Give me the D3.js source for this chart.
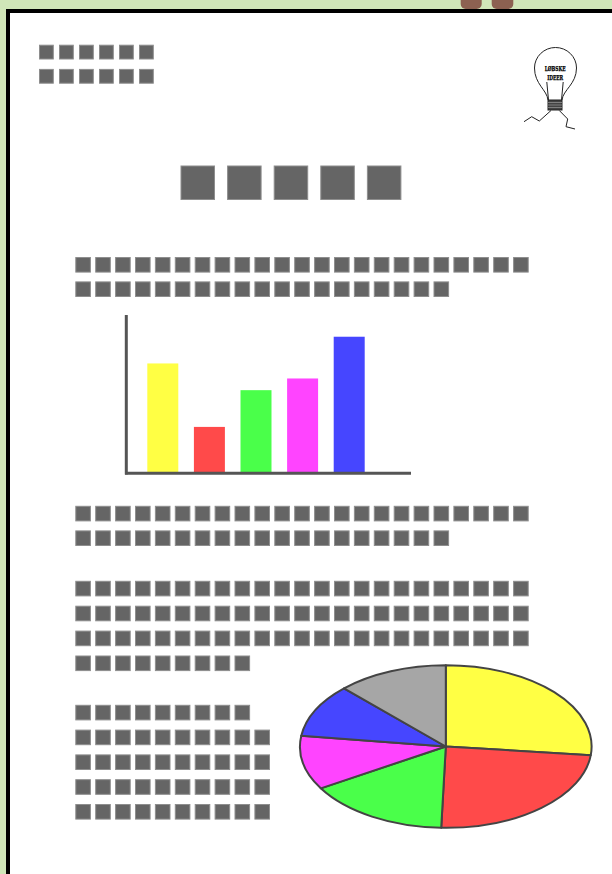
<!DOCTYPE html>
<html>
<head>
<meta charset="utf-8">
<script src="https://cdn.jsdelivr.net/npm/d3@7"></script>
<style>
html,body{margin:0;padding:0;background:#d0e6b8;}
svg{display:block;}
</style>
</head>
<body>
<svg id="chart" width="612" height="874"></svg>
<script>
// ---- data ----
const barCategories = ["A", "B", "C", "D", "E"];
const barValues = [65, 27, 49, 56, 81];
const barColors = ["#ffff44", "#ff4a4a", "#4aff4a", "#ff44ff", "#4646ff"];

const pieCategories = ["A", "B", "C", "D", "E", "F"];
const pieValues = [26.7, 23.8, 15.9, 10.7, 10.6, 12.3];
const pieColors = ["#ffff44", "#ff4a4a", "#4aff4a", "#ff44ff", "#4646ff", "#a6a6a6"];

// placeholder "text" rows: number of blocks per row
const headerRows = [6, 6];
const titleRow = [5];
const para1Rows = [23, 19];
const para2Rows = [23, 19];
const para3Rows = [23, 23, 23, 9];
const para4Rows = [9, 10, 10, 10, 10];

const logoLines = ["LØBSKE", "IDEER"];

// ---- drawing ----
const svg = d3.select("#chart");

// background
svg.append("rect").attr("width", 612).attr("height", 874).attr("fill", "#d0e6b8");

// feet at top
svg.append("rect").attr("x", 460.7).attr("y", -6).attr("width", 21).attr("height", 15)
  .attr("rx", 5).attr("fill", "#8c6151");
svg.append("rect").attr("x", 491.7).attr("y", -6).attr("width", 21.6).attr("height", 15)
  .attr("rx", 5).attr("fill", "#8c6151");

// page
svg.append("rect").attr("x", 8).attr("y", 11).attr("width", 640).attr("height", 900)
  .attr("fill", "#ffffff").attr("stroke", "#000").attr("stroke-width", 4);

// block rows helper
function blockRows(rows, x0, yTop, size, pitchX, pitchY) {
  const g = svg.append("g");
  rows.forEach((count, ri) => {
    const idx = d3.range(count);
    const xs = d3.scaleLinear().domain([0, 1]).range([x0, x0 + pitchX]);
    g.selectAll(null).data(idx).enter().append("rect")
      .attr("x", d => xs(d))
      .attr("y", yTop + ri * pitchY)
      .attr("width", size).attr("height", size)
      .attr("fill", "#656565")
      .attr("stroke", "#8e8e8e").attr("stroke-width", 1);
  });
}

blockRows(headerRows, 39.5, 45.2, 13.8, 20, 24.2);
blockRows(titleRow, 181, 166, 33.5, 46.6, 0);
blockRows(para1Rows, 75.8, 257.5, 14.6, 19.9, 24.4);
blockRows(para2Rows, 75.8, 506.3, 14.6, 19.9, 24.6);
blockRows(para3Rows, 75.8, 581.3, 14.6, 19.9, 24.9);
blockRows(para4Rows, 75.8, 705.3, 14.6, 19.9, 24.8);

// ---- bar chart ----
const x = d3.scaleBand().domain(barCategories).range([139.5, 372.5])
  .paddingInner(0.335).paddingOuter(0.1675);
const y = d3.scaleLinear().domain([0, 100]).range([472, 305]);

svg.append("g").selectAll("rect").data(barValues).enter().append("rect")
  .attr("x", (d, i) => x(barCategories[i]))
  .attr("y", d => y(d))
  .attr("width", x.bandwidth())
  .attr("height", d => y(0) - y(d))
  .attr("fill", (d, i) => barColors[i]);

// axes
svg.append("line").attr("x1", 126.3).attr("x2", 126.3).attr("y1", y(94)).attr("y2", 474.5)
  .attr("stroke", "#555").attr("stroke-width", 3);
svg.append("line").attr("x1", 125).attr("x2", 411).attr("y1", 473.3).attr("y2", 473.3)
  .attr("stroke", "#555").attr("stroke-width", 3);

// ---- pie chart (elliptical) ----
const cx = 445.8, cy = 746.5, rx = 145.8, ry = 81.3;
const pie = d3.pie().sort(null).value(d => d);
const arc = d3.arc().innerRadius(0).outerRadius(ry);
const pg = svg.append("g").attr("transform", `translate(${cx},${cy}) scale(${rx / ry},1)`);
pg.selectAll("path").data(pie(pieValues)).enter().append("path")
  .attr("d", arc)
  .attr("fill", (d, i) => pieColors[i])
  .attr("stroke", "#444")
  .attr("stroke-width", 2)
  .attr("stroke-linejoin", "round")
  .attr("vector-effect", "non-scaling-stroke");

// ---- logo (light bulb) ----
const lg = svg.append("g").attr("fill", "none").attr("stroke", "#222").attr("stroke-width", 1);
lg.append("path").attr("d",
  "M548,100 C547,90 534.5,84 534.5,68 A21,20.5 0 1 1 576.5,68 C576.5,84 563,90 562,100");
lg.append("path").attr("d", "M548.5,100 L546.8,82 M561.5,100 L563.2,82");
// screw base
svg.append("rect").attr("x", 548).attr("y", 100).attr("width", 14).attr("height", 10)
  .attr("fill", "#444").attr("stroke", "#222").attr("stroke-width", 1);
[102.5, 105, 107.5].forEach(yy => {
  svg.append("line").attr("x1", 548).attr("x2", 562).attr("y1", yy).attr("y2", yy)
    .attr("stroke", "#aaa").attr("stroke-width", 0.6);
});
// wires
lg.append("path").attr("d", "M551,110.5 L539.3,121 L531.7,116.7 L524,121.7");
lg.append("path").attr("d", "M559.3,110.5 L567.7,119 L566,126.7 L575,129");
// logo text
svg.append("g").selectAll("text").data(logoLines).enter().append("text")
  .attr("x", 555.2)
  .attr("y", (d, i) => 71.3 + i * 9)
  .attr("text-anchor", "middle")
  .attr("font-family", "'DejaVu Serif Condensed', 'Liberation Serif', serif")
  .attr("font-weight", "bold")
  .attr("font-size", 8)
  .attr("textLength", (d, i) => i === 0 ? 21 : 16)
  .attr("lengthAdjust", "spacingAndGlyphs")
  .attr("fill", "#000")
  .attr("stroke", "#000").attr("stroke-width", 0.25)
  .text(d => d);
</script>
</body>
</html>
